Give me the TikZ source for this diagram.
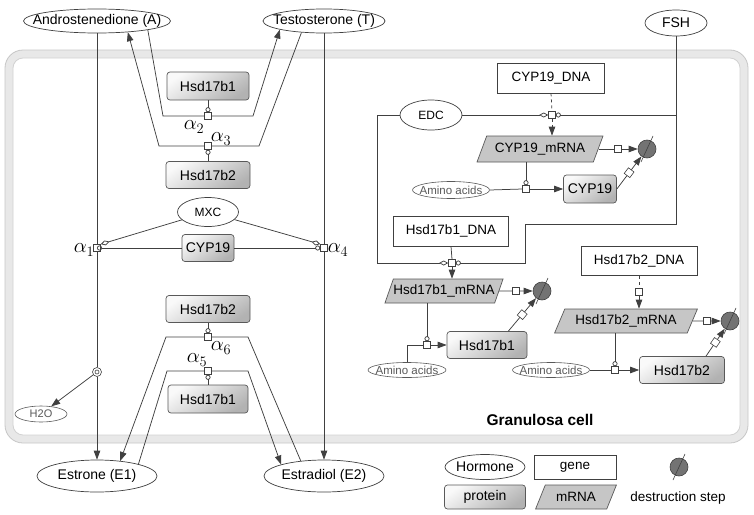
\documentclass[tikz,border=0pt]{standalone}
\usepackage{fontspec}
\setmainfont{Liberation Sans}
\usetikzlibrary{shapes.geometric, arrows.meta, calc}
\newcommand\myfs[1]{\fontsize{#1}{#1}\selectfont}
\tikzset{
 hormone/.style={ellipse, draw=black!75, line width=0.7pt, fill=white, inner xsep=-30pt, inner ysep=0pt, font=\myfs{14}},
 smallhorm/.style={ellipse, draw=black!65, line width=0.6pt, fill=white, inner xsep=-30pt, inner ysep=0pt, text=black!65, font=\myfs{11.5}},
 protein/.style={rectangle, rounded corners=3pt, draw=black!65, line width=0.7pt, top color=gray!5, bottom color=gray!60, shading angle=35, inner sep=0pt, font=\myfs{14}},
 gene/.style={rectangle, draw=black!75, line width=0.7pt, fill=white, inner sep=0pt, font=\myfs{13.5}},
 mrna/.style={trapezium, trapezium left angle=56, trapezium right angle=124, trapezium stretches=true, draw=black!65, line width=0.7pt, fill=gray!45, inner sep=0pt, font=\myfs{13.5}},
 proc/.style={rectangle, draw=black!75, line width=0.6pt, fill=white, minimum size=7pt, inner sep=0pt},
 sink/.style={circle, draw=black!75, line width=0.6pt, fill=black!55, minimum size=18pt, inner sep=0pt},
 ln/.style={draw=black!75, line width=0.75pt},
 prod/.style={-{Triangle[length=9pt,width=6.5pt]}},
 catal/.style={-{Circle[open,length=5pt,width=5pt]}},
 modu/.style={-{Diamond[open,length=9pt,width=5pt]}},
 alab/.style={font=\myfs{20}, inner sep=0pt},
}
\begin{document}
\begin{tikzpicture}[x=1pt,y=-1pt]
\useasboundingbox (0,0) rectangle (754,514);
% Granulosa cell border
\draw[rounded corners=14pt, line width=8pt, draw=gray!18] (9,54) rectangle (744,439);
\draw[rounded corners=18pt, draw=gray!45, line width=0.8pt] (5,50) rectangle (748,443);
\draw[rounded corners=10pt, draw=gray!35, line width=0.8pt] (13,58) rectangle (740,435);
\node[font=\myfs{15.5}\bfseries] (gc) at (540,420) {Granulosa cell};

% hormones
\node[hormone, minimum width=147pt, minimum height=24pt] (A) at (97,21) {Androstenedione (A)};
\node[hormone, minimum width=122pt, minimum height=24pt] (T) at (324,21) {Testosterone (T)};
\node[hormone, minimum width=120pt, minimum height=32pt] (E1) at (97,476) {Estrone (E1)};
\node[hormone, minimum width=120pt, minimum height=32pt] (E2) at (324,476) {Estradiol (E2)};
\node[hormone, minimum width=62pt, minimum height=26pt] (FSH) at (676,23) {FSH};
\node[hormone, minimum width=61pt, minimum height=29pt, font=\myfs{12}] (MXC) at (208,212) {MXC};
\node[hormone, minimum width=62pt, minimum height=30pt, font=\myfs{12}] (EDC) at (431,115) {EDC};
\node[smallhorm, minimum width=52pt, minimum height=16pt, font=\myfs{11}] (H2O) at (41,414) {H2O};
\node[smallhorm, minimum width=77pt, minimum height=17pt] (AA1) at (451,190) {Amino acids};
\node[smallhorm, minimum width=78pt, minimum height=15pt] (AA2) at (407,370) {Amino acids};
\node[smallhorm, minimum width=77pt, minimum height=15pt] (AA3) at (551,370) {Amino acids};

% proteins
\node[protein, minimum width=82pt, minimum height=28pt] (P1) at (208,86) {Hsd17b1};
\node[protein, minimum width=84pt, minimum height=27pt] (P2) at (208,175) {Hsd17b2};
\node[protein, minimum width=52pt, minimum height=27pt] (CL) at (208,248) {CYP19};
\node[protein, minimum width=84pt, minimum height=27pt] (P3) at (208,309) {Hsd17b2};
\node[protein, minimum width=80pt, minimum height=28pt] (P4) at (208,399) {Hsd17b1};
\node[protein, minimum width=53pt, minimum height=28pt] (CR) at (590,189) {CYP19};
\node[protein, minimum width=80pt, minimum height=27pt] (H1p) at (487,345) {Hsd17b1};
\node[protein, minimum width=85pt, minimum height=27pt] (H2p) at (682,370) {Hsd17b2};

% genes
\node[gene, minimum width=107pt, minimum height=30pt] (CD) at (551,78) {CYP19\_DNA};
\node[gene, minimum width=115pt, minimum height=30pt] (H1D) at (451,231) {Hsd17b1\_DNA};
\node[gene, minimum width=116pt, minimum height=29pt] (H2D) at (639,261) {Hsd17b2\_DNA};

% mRNAs
\node[mrna, minimum width=126pt, minimum height=26pt] (CM) at (540,149) {CYP19\_mRNA};
\node[mrna, minimum width=118pt, minimum height=24pt] (H1m) at (444,291) {Hsd17b1\_mRNA};
\node[mrna, minimum width=143pt, minimum height=24pt] (H2m) at (626,321) {Hsd17b2\_mRNA};

% sinks
\node[sink] (D1) at (647,149) {};
\node[sink] (D2) at (542,291) {};
\node[sink] (D3) at (730,321) {};
\foreach \d in {D1,D2,D3}
  \draw[draw=black!75, line width=0.6pt] ($(\d)+(-6,13)$) -- ($(\d)+(6,-13)$);

% process nodes
\node[proc] (a1) at (97,248) {};
\node[proc] (a4) at (324,248) {};
\node[proc] (a2) at (208,116) {};
\node[proc] (a3) at (208,146) {};
\node[proc] (a6) at (208,337) {};
\node[proc] (a5) at (208,371) {};
\node[proc] (tC) at (552,115) {};
\node[proc] (tH1) at (452,263) {};
\node[proc] (tH2) at (639,292) {};
\node[proc] (trC) at (526,189) {};
\node[proc] (trH1) at (427,345) {};
\node[proc] (trH2) at (615,370) {};

% dissociation
\node[circle, draw=black!75, line width=0.6pt, fill=white, minimum size=9pt, inner sep=0pt] (diss) at (97,372) {};
\node[circle, draw=black!75, line width=0.6pt, minimum size=4pt, inner sep=0pt] (dissin) at (97,372) {};

% labels alpha
\node[alab] (l1) at (84,250) {$\alpha_1$};
\node[alab] (l4) at (338,250) {$\alpha_4$};
\node[alab] (l2) at (194,127) {$\alpha_2$};
\node[alab] (l3) at (221,139) {$\alpha_3$};
\node[alab] (l5) at (197,360) {$\alpha_5$};
\node[alab] (l6) at (221,348) {$\alpha_6$};

% coordinates
\coordinate (c2a) at (163,116); \coordinate (c2b) at (253,116);
\coordinate (c3a) at (159,146); \coordinate (c3b) at (259,146);
\coordinate (c6a) at (166,337); \coordinate (c6b) at (248,337);
\coordinate (c5a) at (167,371); \coordinate (c5b) at (248,371);
\coordinate (f1) at (676,224); \coordinate (f2) at (525,224);
\coordinate (e1) at (377,115);

% left side connectors
\draw[ln] (A.south) -- (a1.north);
\draw[ln] (a1.south) -- (diss.north);
\draw[ln,prod] (diss.south) -- (E1.north);
\draw[ln,prod] (diss) -- (H2O);
\draw[ln] (T.south) -- (a4.north);
\draw[ln,prod] (a4.south) -- (E2.north);
\draw[ln,catal] (CL.west) -- (a1.center);
\draw[ln,catal] (CL.east) -- (a4.west);
\draw[ln,modu] (MXC) -- (a1.north east);
\draw[ln,modu] (MXC) -- (a4.north west);

\draw[ln] (A.350) -- (c2a) -- (a2.west);
\draw[ln,prod] (a2.east) -- (c2b) -- (T.191);
\draw[ln,prod] (a3.west) -- (c3a) -- (A.340);
\draw[ln] (T.207) -- (c3b) -- (a3.east);
\draw[ln,catal] (P1.south) -- (a2.north);
\draw[ln,catal] (P2.north) -- (a3.south);

\draw[ln,prod] (a6.west) -- (c6a) -- (E1.33);
\draw[ln] (E2.147) -- (c6b) -- (a6.east);
\draw[ln] (E1.16) -- (c5a) -- (a5.west);
\draw[ln,prod] (a5.east) -- (c5b) -- (E2.165);
\draw[ln,catal] (P3.south) -- (a6.north);
\draw[ln,catal] (P4.north) -- (a5.south);

% right side connectors
\draw[ln,modu] (EDC.east) -- (tC.west);
\draw[ln,modu] (EDC.west) -- (e1) |- (tH1.west);
\draw[ln,catal] (FSH.south) |- (tC.east);
\draw[ln,catal] (FSH.south) -- (f1) -- (f2) |- (tH1.east);

\draw[ln,dashed] (CD.south) -- (tC.north);
\draw[ln,dashed,prod] (tC.south) -- (tC.south |- CM.north);
\draw[ln] (H1D.south) -- (tH1.north);
\draw[ln,prod] (tH1.south) -- (tH1.south |- H1m.north);
\draw[ln,dashed] (H2D.south) -- (tH2.north);
\draw[ln,prod] (tH2.south) -- (tH2.south |- H2m.north);

\draw[ln] (AA1.east) -- (trC.west);
\draw[ln,prod] (trC.east) -- (CR.west);
\draw[ln,catal] (trC |- CM.south) -- (trC.north);
\draw[ln] (AA2.north) |- (trH1.west);
\draw[ln,prod] (trH1.east) -- (H1p.west);
\draw[ln,catal] (trH1 |- H1m.south) -- (trH1.north);
\draw[ln] (AA3.east) -- (trH2.west);
\draw[ln,prod] (trH2.east) -- (H2p.west);
\draw[ln,catal] (trH2 |- H2m.south) -- (trH2.north);

\draw[ln,prod] (CM.east) -- node[proc] (dCm) {} (D1);
\draw[ln,prod] (CR.east) -- node[proc,sloped] (dCp) {} (D1);
\draw[ln,prod] (H1m.east) -- node[proc] (dH1m) {} (D2);
\draw[ln,prod] (H1p.33) -- node[proc,sloped] (dH1p) {} (D2);
\draw[ln,prod] (H2m.east) -- node[proc] (dH2m) {} (D3);
\draw[ln,prod] (H2p.30) -- node[proc,sloped] (dH2p) {} (D3);

% legend
\node[hormone, minimum width=80pt, minimum height=25pt] (LH) at (485,467) {Hormone};
\node[gene, minimum width=82pt, minimum height=24pt] (LG) at (575,467) {gene};
\node[protein, minimum width=81pt, minimum height=24pt] (LP) at (485,497) {protein};
\node[mrna, minimum width=81pt, minimum height=24pt] (LM) at (576,497) {mRNA};
\node[sink] (LD) at (679,467) {};
\draw[draw=black!75, line width=0.6pt] ($(LD)+(-6,13)$) -- ($(LD)+(6,-13)$);
\node[font=\myfs{13.5}] (LDt) at (678,498) {destruction step};
\end{tikzpicture}
\end{document}
